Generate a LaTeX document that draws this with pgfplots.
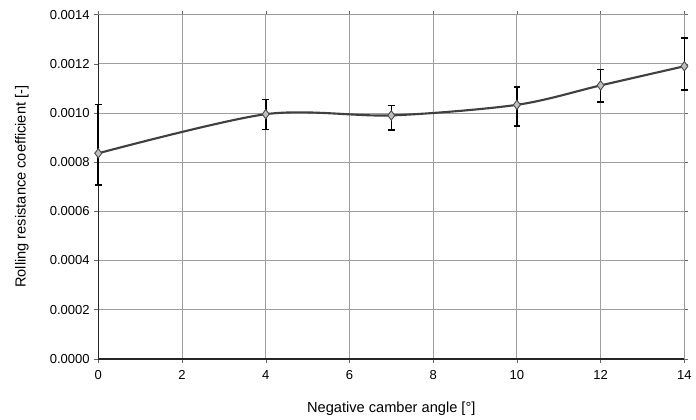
\documentclass[border=0pt]{standalone}
\usepackage{pgfplots}
\pgfplotsset{compat=1.18}
\usepackage{fontspec}
\setmainfont{Liberation Sans}
\begin{document}
\begin{tikzpicture}
\begin{axis}[
    scale only axis,
    width=441pt, height=259pt,
    xmin=0, xmax=14, ymin=0, ymax=0.0014,
    xtick={0,2,...,14},
    ytick={0,0.0002,...,0.0014},
    scaled y ticks=false,
    yticklabel style={/pgf/number format/.cd, fixed, fixed zerofill, precision=4, assume math mode=true},
    xticklabel style={/pgf/number format/assume math mode=true, yshift=-2pt},
    tick label style={font=\fontsize{9.8}{11}\selectfont},
    label style={font=\fontsize{11}{13}\selectfont},
    xlabel={Negative camber angle [°]},
    ylabel={Rolling resistance coefficient [-]},
    grid=major,
    major grid style={gray!75, line width=0.6pt},
    axis line style={gray!80, line width=0.6pt},
    tick style={black!60},
    tick align=outside,
    major tick length=3pt,
    xlabel style={yshift=-10pt},
    ylabel style={yshift=9pt},
    clip=false,
]
\draw[black!85, line width=1.1pt] (rel axis cs:0,1) -- (rel axis cs:0,0) -- (rel axis cs:1,0);
\addplot[
    black!75, line width=1.6pt, smooth, tension=0.5,
    mark=diamond*, mark size=3.5pt,
    mark options={fill=gray!50, draw=black!70, line width=0.7pt},
    error bars/.cd, y dir=both, y explicit,
    error bar style={black, line width=1.2pt},
    error mark options={rotate=90, black, mark size=2.5pt, line width=1.2pt},
] coordinates {
    (0, 0.000836) += (0, 0.000199) -= (0, 0.000130)
    (4, 0.000995) += (0, 0.000060) -= (0, 0.000062)
    (7, 0.000990) += (0, 0.000040) -= (0, 0.000060)
    (10, 0.001033) += (0, 0.000072) -= (0, 0.000086)
    (12, 0.001112) += (0, 0.000065) -= (0, 0.000068)
    (14, 0.001190) += (0, 0.000115) -= (0, 0.000097)
};
\end{axis}
\path (current axis.outer west) ++(-8pt,0) coordinate (padl);
\path (current axis.north) ++(0,11pt) coordinate (padt);
\end{tikzpicture}
\end{document}
